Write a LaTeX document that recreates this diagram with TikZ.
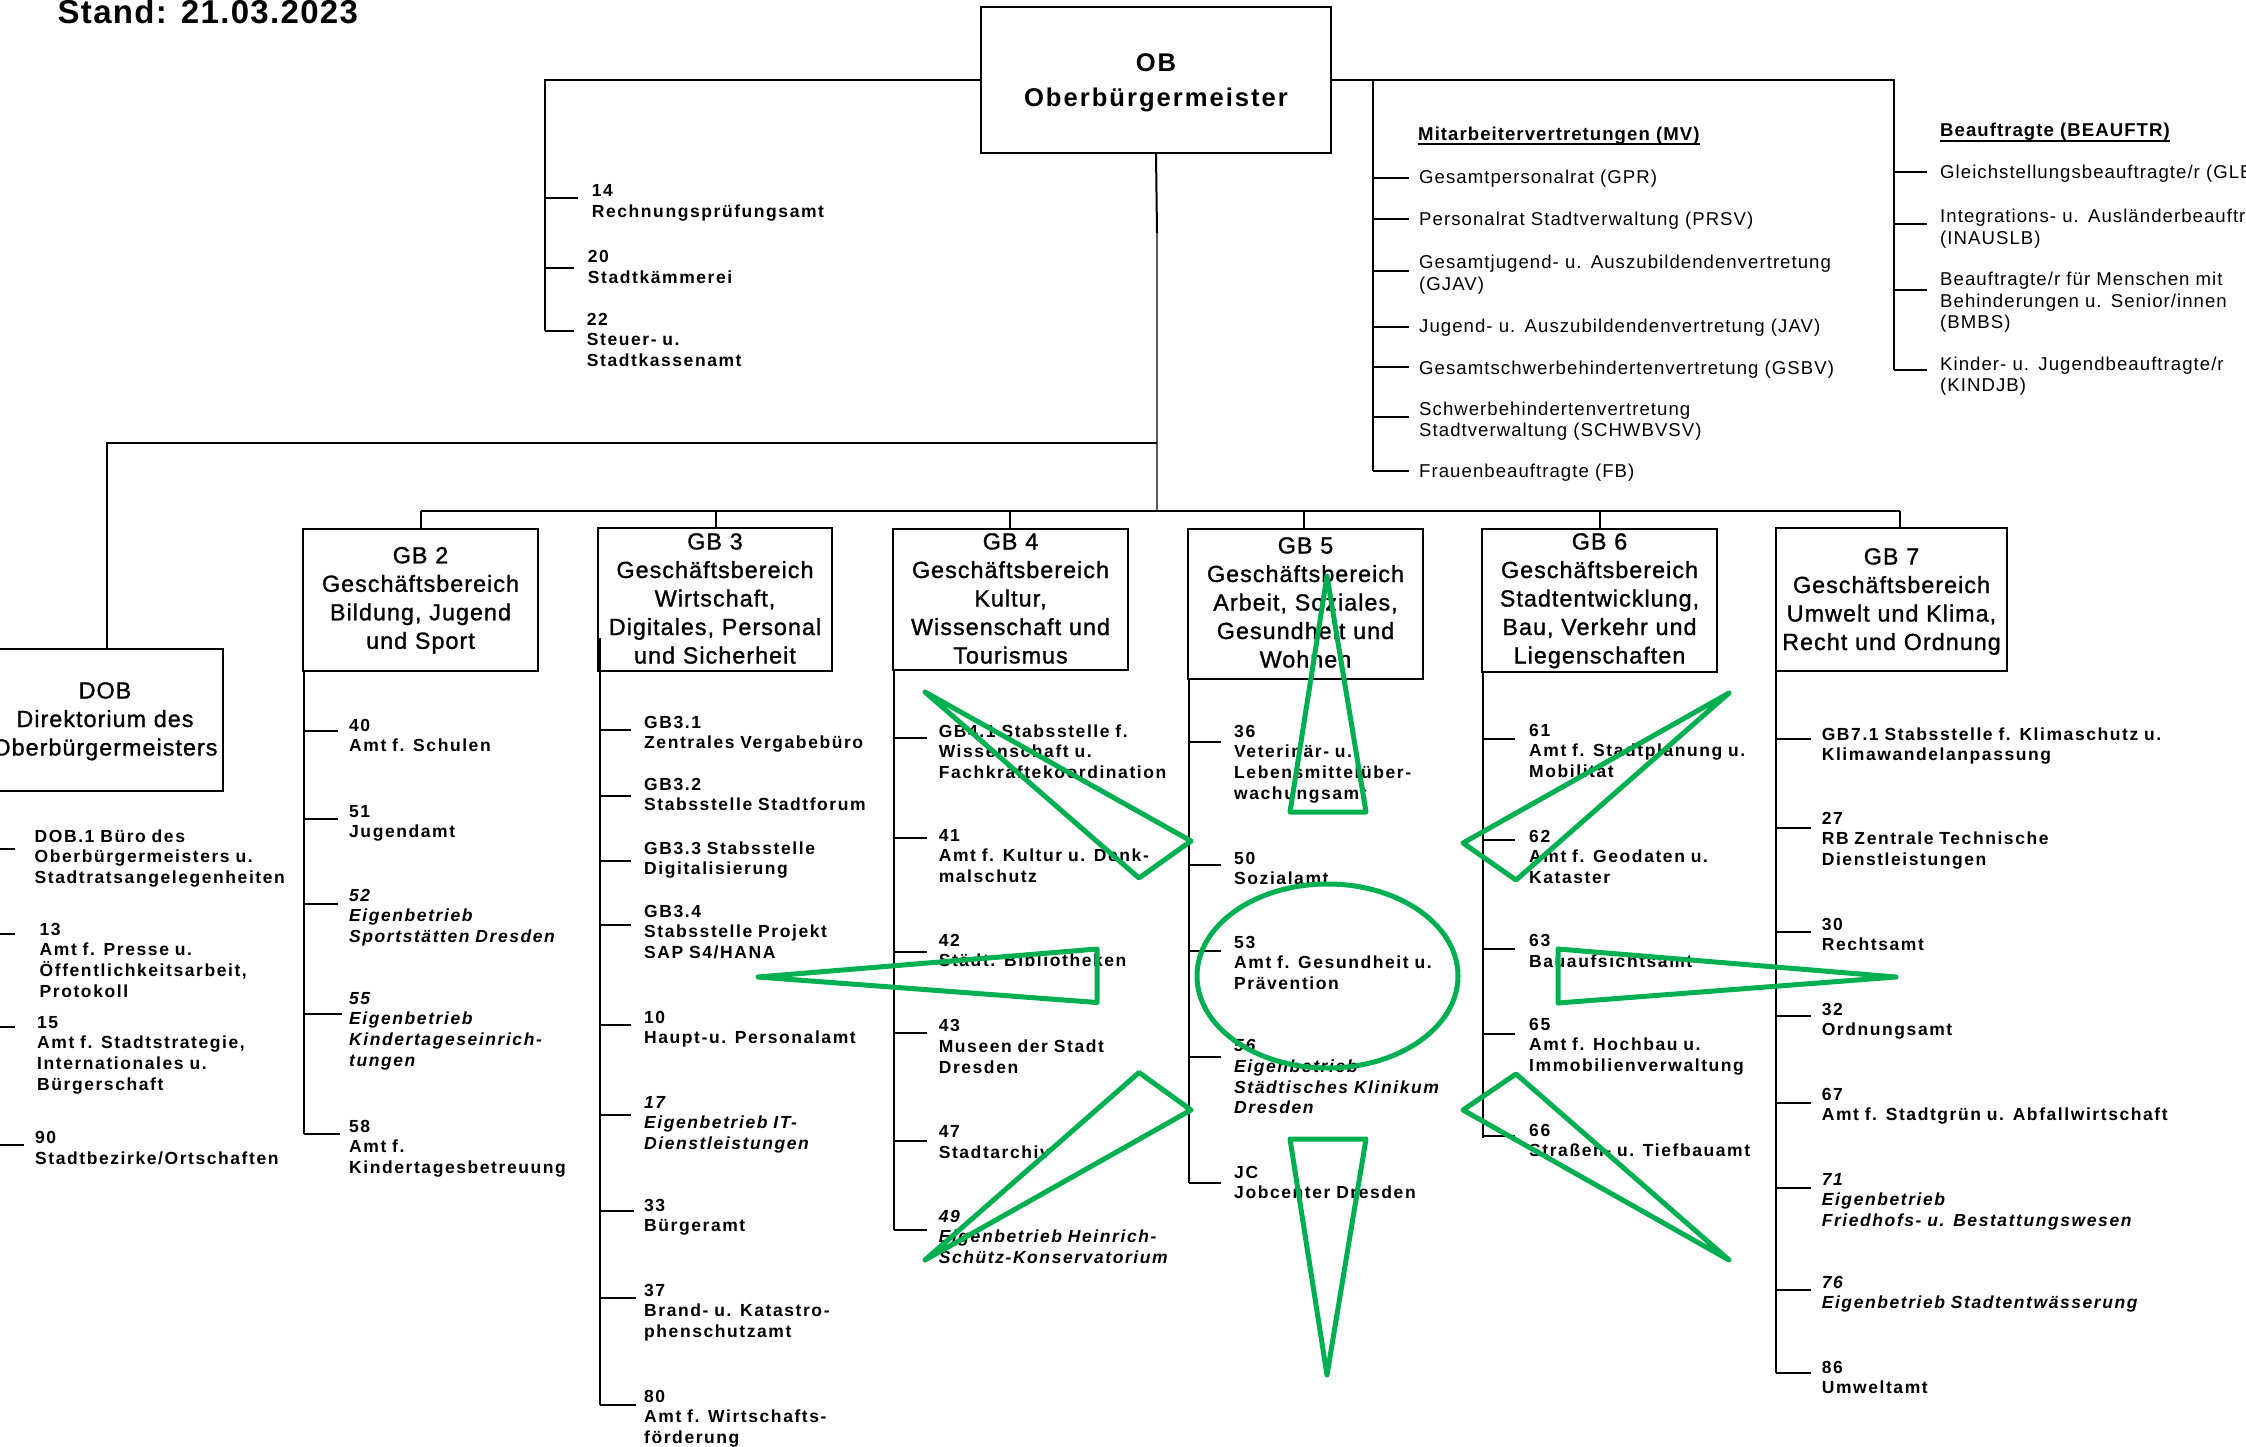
\documentclass[tikz,border=0pt]{standalone}
\usepackage{fontspec}
\setmainfont{Liberation Sans}
\newfontfamily\fItem[LetterSpace=9]{Liberation Sans}
\newfontfamily\fMV[LetterSpace=5.6]{Liberation Sans}
\newfontfamily\fBox[LetterSpace=4.5,FakeBold=1.2]{Liberation Sans}
\newfontfamily\fOB[LetterSpace=7.8]{Liberation Sans}
\newfontfamily\fStand[LetterSpace=4]{Liberation Sans}
\definecolor{sgreen}{HTML}{00B050}
\newcommand\itemfnt{\fItem\bfseries\fontsize{17.5}{20.8}\selectfont}
\newcommand\mvfnt{\fMV\fontsize{18.6}{21.5}\selectfont}
\newcommand\boxfnt{\fBox\fontsize{23.3}{28.5}\selectfont}
\newcommand\orgitem[7]{\node[itm] (#1) at (#5,#6) {#7};\draw[ln] (#2,#4) -- (#3,#4);}
\newcommand\mvitem[7]{\node[mvi] (#1) at (#5,#6) {#7};\draw[ln] (#2,#4) -- (#3,#4);}
\newcommand\boxtext[4]{\node[btxt] (#1) at (#2,#3) {#4};}
\begin{document}
\begin{tikzpicture}[x=1pt,y=-1pt,
  ln/.style={line width=2pt, black},
  gbox/.style={draw, line width=2pt, inner sep=0, minimum width=235pt, minimum height=142pt},
  btxt/.style={anchor=base, inner sep=0, text width=320pt, align=center, font=\boxfnt},
  itm/.style={anchor=base west, inner sep=0, text width=520pt, align=left, font=\itemfnt},
  mvi/.style={anchor=base west, inner sep=0, text width=520pt, align=left, font=\mvfnt},
  hdr/.style={anchor=base west, inner sep=0, font=\fMV\bfseries\fontsize{18.6}{21.5}\selectfont},
  grn/.style={draw=sgreen, line width=5pt, line join=round}]
\useasboundingbox (0,0) rectangle (2246,1447);
\fill[white] (0,0) rectangle (2246,1447);

% title
\node[anchor=base west, inner sep=0, font=\fStand\bfseries\fontsize{33}{36}\selectfont] (stand) at (57.5,23.3) {Stand: 21.03.2023};

% OB
\node[gbox, minimum width=350pt, minimum height=146pt] (ob) at (1156,80) {};
\node[btxt, font=\fOB\bfseries\fontsize{25.6}{35}\selectfont] (obt) at (1156,72) {OB\\Oberbürgermeister};

% top-left staff
\draw[ln] (ob.west) -| (545,331);
\orgitem{i14}{545}{578}{198.3}{591.7}{196.7}{14\\Rechnungsprüfungsamt}
\orgitem{i20}{545}{574}{268}{587.7}{263}{20\\Stadtkämmerei}
\orgitem{i22}{545}{574}{330.7}{586.7}{325}{22\\Steuer- u.\\Stadtkassenamt}

% right: MV and Beauftragte
\draw[ln] (ob.east) -| (1894,370);
\draw[ln] (1373,80) -- (1373,471);
\node[hdr] (mvh) at (1418,140.7) {Mitarbeitervertretungen (MV)};
\draw[line width=1.5pt] ([yshift=-3.5pt]mvh.base west) -- ([yshift=-3.5pt]mvh.base east);
\mvitem{gpr}{1373}{1409}{178}{1419}{184}{Gesamtpersonalrat (GPR)}
\mvitem{prsv}{1373}{1409}{219}{1419}{225.5}{Personalrat Stadtverwaltung (PRSV)}
\mvitem{gjav}{1373}{1409}{271}{1419}{269}{Gesamtjugend- u. Auszubildendenvertretung\\(GJAV)}
\mvitem{jav}{1373}{1409}{327}{1419}{333}{Jugend- u. Auszubildendenvertretung (JAV)}
\mvitem{gsbv}{1373}{1409}{367}{1419}{374}{Gesamtschwerbehindertenvertretung (GSBV)}
\mvitem{schw}{1373}{1409}{417}{1419}{415}{Schwerbehindertenvertretung\\Stadtverwaltung (SCHWBVSV)}
\mvitem{fb}{1373}{1409}{471}{1419}{477}{Frauenbeauftragte (FB)}

\node[hdr] (beh) at (1940,137) {Beauftragte (BEAUFTR)};
\draw[line width=1.5pt] ([yshift=-4pt]beh.base west) -- ([yshift=-4pt]beh.base east);
\mvitem{glb}{1894}{1927}{172}{1940}{179}{Gleichstellungsbeauftragte/r (GLB)}
\mvitem{inaus}{1894}{1927}{224}{1940}{223}{Integrations- u. Ausländerbeauftragte/r\\(INAUSLB)}
\mvitem{bmbs}{1894}{1927}{290}{1940}{286}{Beauftragte/r für Menschen mit\\Behinderungen u. Senior/innen\\(BMBS)}
\mvitem{kindjb}{1894}{1927}{370}{1940}{370}{Kinder- u. Jugendbeauftragte/r\\(KINDJB)}

% central spine
\coordinate (spA) at (1157,443);
\coordinate (spB) at (1157,510.5);
\draw[ln] (ob.south) -- (1157,233);
\draw[line width=2pt, black!65] (1157,233) -- (spB);

% DOB
\node[gbox, minimum width=232pt] (dob) at (107,720) {};
\boxtext{dobt}{105}{698.5}{DOB\\Direktorium des\\Oberbürgermeisters}
\draw[ln] (spA) -| (dob.north);
\draw[ln] (-4,791) -- (-4,1145);
\orgitem{d1}{-4}{15.3}{848.7}{34.5}{842}{DOB.1 Büro des\\Oberbürgermeisters u.\\Stadtratsangelegenheiten}
\orgitem{d13}{-4}{15.3}{934}{39.5}{935}{13\\Amt f. Presse u.\\Öffentlichkeitsarbeit,\\Protokoll}
\orgitem{d15}{-4}{15.3}{1027}{37}{1028}{15\\Amt f. Stadtstrategie,\\Internationales u.\\Bürgerschaft}
\orgitem{d90}{-4}{23.8}{1145}{35}{1143.5}{90\\Stadtbezirke/Ortschaften}

% GB boxes
\node[gbox] (gb2) at (420.5,600) {};
\node[gbox, minimum width=234pt, minimum height=143pt] (gb3) at (715,599.5) {};
\node[gbox, minimum height=141pt] (gb4) at (1010.5,599.5) {};
\node[gbox, minimum height=150pt] (gb5) at (1305.5,604) {};
\node[gbox, minimum width=234.5pt, minimum height=143pt] (gb6) at (1599.5,600) {};
\node[gbox, minimum width=231pt, minimum height=143pt] (gb7) at (1891.5,599.5) {};
\draw[line width=4pt] (599,638) -- (599,671);

\boxtext{gb2t}{420.5}{563.3}{GB 2\\Geschäftsbereich\\Bildung, Jugend\\und Sport}
\boxtext{gb3t}{715}{549.5}{GB 3\\Geschäftsbereich\\Wirtschaft,\\Digitales, Personal\\und Sicherheit}
\boxtext{gb4t}{1010.5}{549.5}{GB 4\\Geschäftsbereich\\Kultur,\\Wissenschaft und\\Tourismus}
\boxtext{gb5t}{1305.5}{553.5}{GB 5\\Geschäftsbereich\\Arbeit, Soziales,\\Gesundheit und\\Wohnen}
\boxtext{gb6t}{1599.5}{549.5}{GB 6\\Geschäftsbereich\\Stadtentwicklung,\\Bau, Verkehr und\\Liegenschaften}
\boxtext{gb7t}{1891.5}{564.5}{GB 7\\Geschäftsbereich\\Umwelt und Klima,\\Recht und Ordnung}

% GB bus
\draw[ln] (421,510.5) -- (1900,510.5);
\draw[ln] (421,510.5) -- (gb2.north -| 421,0);
\draw[ln] (716,510.5) -- (gb3.north -| 716,0);
\draw[ln] (1010,510.5) -- (gb4.north -| 1010,0);
\draw[ln] (1304,510.5) -- (gb5.north -| 1304,0);
\draw[ln] (1600,510.5) -- (gb6.north -| 1600,0);
\draw[ln] (1900,510.5) -- (gb7.north -| 1900,0);

% GB2
\draw[ln] (gb2.south west -| 304,0) -- (304,1134);
\orgitem{g40}{304}{338}{731}{349}{731}{40\\Amt f. Schulen}
\orgitem{g51}{304}{338}{819}{349}{817}{51\\Jugendamt}
\orgitem{g52}{304}{338}{904}{349}{901}{\itshape 52\\Eigenbetrieb\\Sportstätten Dresden}
\orgitem{g55}{304}{342}{1014}{349}{1004}{\itshape 55\\Eigenbetrieb\\Kindertageseinrich-\\tungen}
\orgitem{g58}{304}{340}{1134}{349}{1132}{58\\Amt f.\\Kindertagesbetreuung}

% GB3
\draw[ln] (gb3.south west -| 600,0) -- (600,1405);
\orgitem{g31}{600}{631}{730}{644}{728}{GB3.1\\Zentrales Vergabebüro}
\orgitem{g32}{600}{631}{796}{644}{790}{GB3.2\\Stabsstelle Stadtforum}
\orgitem{g33}{600}{631}{861}{644}{854}{GB3.3 Stabsstelle\\Digitalisierung}
\orgitem{g34}{600}{631}{925}{644}{917}{GB3.4\\Stabsstelle Projekt\\SAP S4/HANA}
\orgitem{g10}{600}{631}{1025}{644}{1023}{10\\Haupt-u. Personalamt}
\orgitem{g17}{600}{631}{1115}{644}{1108}{\itshape 17\\Eigenbetrieb IT-\\Dienstleistungen}
\orgitem{g33a}{600}{634}{1211}{644}{1211}{33\\Bürgeramt}
\orgitem{g37}{600}{636}{1298}{644}{1296}{37\\Brand- u. Katastro-\\phenschutzamt}
\orgitem{g80}{600}{636}{1405}{644}{1402}{80\\Amt f. Wirtschafts-\\förderung}

% GB4
\draw[ln] (gb4.south west -| 894,0) -- (894,1229.6);
\orgitem{g41a}{894}{927}{738}{938.6}{737}{GB4.1 Stabsstelle f.\\Wissenschaft u.\\Fachkräftekoordination}
\orgitem{g41}{894}{927}{838}{938.6}{841}{41\\Amt f. Kultur u. Denk-\\malschutz}
\orgitem{g42}{894}{927}{951.5}{938.6}{946}{42\\Städt. Bibliotheken}
\orgitem{g43}{894}{927}{1033}{938.6}{1031.5}{43\\Museen der Stadt\\Dresden}
\orgitem{g47}{894}{927}{1141}{938.6}{1137.6}{47\\Stadtarchiv}
\orgitem{g49}{894}{927}{1229.6}{938.6}{1222}{\itshape 49\\Eigenbetrieb Heinrich-\\Schütz-Konservatorium}

% GB5
\draw[ln] (gb5.south west -| 1189,0) -- (1189,1183);
\orgitem{g36}{1189}{1221}{742}{1234}{737}{36\\Veterinär- u.\\Lebensmittelüber-\\wachungsamt}
\orgitem{g50}{1189}{1221}{865}{1234}{864}{50\\Sozialamt}
\orgitem{g53}{1189}{1221}{951}{1234}{948}{53\\Amt f. Gesundheit u.\\Prävention}
\orgitem{g56}{1189}{1221}{1057}{1234}{1051.5}{\itshape 56\\Eigenbetrieb\\Städtisches Klinikum\\Dresden}
\orgitem{gjc}{1189}{1221}{1183}{1234}{1178}{JC\\Jobcenter Dresden}

% GB6
\draw[ln] (gb6.south west -| 1482.5,0) -- (1482.5,1138);
\orgitem{g61}{1482.5}{1515}{739}{1529}{736}{61\\Amt f. Stadtplanung u.\\Mobilität}
\orgitem{g62}{1482.5}{1515}{840}{1529}{842}{62\\Amt f. Geodaten u.\\Kataster}
\orgitem{g63}{1482.5}{1515}{949}{1529}{946.7}{63\\Bauaufsichtsamt}
\orgitem{g65}{1482.5}{1515}{1033.5}{1529}{1030}{65\\Amt f. Hochbau u.\\Immobilienverwaltung}
\orgitem{g66}{1482.5}{1515}{1136}{1529}{1136}{66\\Straßen- u. Tiefbauamt}

% GB7
\draw[ln] (gb7.south west -| 1776,0) -- (1776,1373);
\orgitem{g71a}{1776}{1811}{739}{1821.6}{740}{GB7.1 Stabsstelle f. Klimaschutz u.\\Klimawandelanpassung}
\orgitem{g27}{1776}{1811}{828}{1821.6}{824}{27\\RB Zentrale Technische\\Dienstleistungen}
\orgitem{g30}{1776}{1811}{932}{1821.6}{930}{30\\Rechtsamt}
\orgitem{g32a}{1776}{1811}{1016}{1821.6}{1015}{32\\Ordnungsamt}
\orgitem{g67}{1776}{1811}{1103}{1821.6}{1100}{67\\Amt f. Stadtgrün u. Abfallwirtschaft}
\orgitem{g71}{1776}{1811}{1188}{1821.6}{1185}{\itshape 71\\Eigenbetrieb\\Friedhofs- u. Bestattungswesen}
\orgitem{g76}{1776}{1811}{1290}{1821.6}{1288}{\itshape 76\\Eigenbetrieb Stadtentwässerung}
\orgitem{g86}{1776}{1811}{1373}{1821.6}{1373}{86\\Umweltamt}

% green sunburst overlay
\draw[grn] (1327.5,976) ellipse [x radius=130.5, y radius=92];
\draw[grn] (1290,812) -- (1366,812) -- (1327,576) -- cycle;
\draw[grn] (1290,1139) -- (1366,1139) -- (1327,1375) -- cycle;
\draw[grn] (1097,949) -- (1097,1002.5) -- (758,977) -- cycle;
\draw[grn] (1558,949) -- (1558,1003) -- (1896,977) -- cycle;
\draw[grn] (925,692) -- (1191,841) -- (1139,878) -- cycle;
\draw[grn] (1139,1072.5) -- (1191,1110) -- (925,1260) -- cycle;
\draw[grn] (1729,693) -- (1463,843) -- (1516,880) -- cycle;
\draw[grn] (1516,1074) -- (1463,1110) -- (1729,1260) -- cycle;
\end{tikzpicture}
\end{document}
